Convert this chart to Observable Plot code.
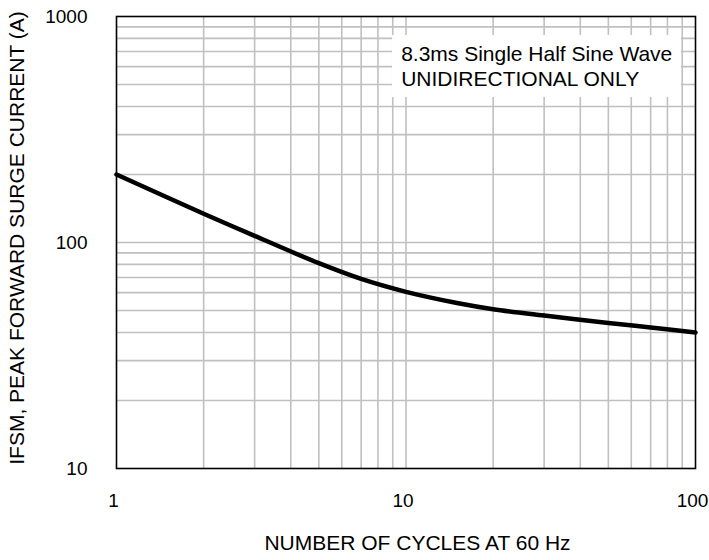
<!DOCTYPE html>
<html>
<head>
<meta charset="utf-8">
<script src="https://cdn.jsdelivr.net/npm/d3@7"></script>
<script src="https://cdn.jsdelivr.net/npm/@observablehq/plot@0.6"></script>
<style>
  html, body { margin: 0; padding: 0; background: #fff; }
  #chart { width: 709px; height: 560px; }
</style>
</head>
<body>
<div id="chart"></div>
<script>
// Surge current curve (cycles at 60 Hz vs peak forward surge current, A)
const cycles  = [1, 2, 3, 5, 7, 10, 15, 20, 30, 50, 70, 100];
const current = [200, 134, 107, 81, 69, 60.5, 54, 50.7, 47.5, 44, 42.1, 40];

// Axis ticks and grid positions
const xTickLabels = [1, 10, 100];
const yTickLabels = [10, 100, 1000];
const xGrid = [2, 3, 4, 5, 6, 7, 8, 9, 10, 20, 30, 40, 50, 60, 70, 80, 90];
const yGrid = [20, 30, 40, 50, 60, 70, 80, 90, 100, 200, 300, 400, 500, 600, 700, 800, 900];

// Texts
const xTitle = "NUMBER OF CYCLES AT 60 Hz";
const yTitle = "IFSM, PEAK FORWARD SURGE CURRENT (A)";
const noteLines = ["8.3ms Single Half Sine Wave", "UNIDIRECTIONAL ONLY"];

// Note box (data coordinates)
const noteBox = [{x1: 8.98, x2: 89.4, y1: 438, y2: 824}];
const noteAt = [{x: 9.62, y: 760}];

const data = cycles.map((c, i) => ({c, v: current[i]}));

const chart = Plot.plot({
  width: 709,
  height: 560,
  marginLeft: 116,
  marginRight: 14,
  marginTop: 16,
  marginBottom: 92,
  style: {fontFamily: "'Liberation Sans', Arial, Helvetica, sans-serif", fontSize: "19px", color: "#000", background: "#fff", overflow: "visible"},
  x: {type: "log", domain: [1, 100]},
  y: {type: "log", domain: [10, 1000]},
  marks: [
    Plot.ruleX(xGrid, {stroke: "#c0c0c0", strokeWidth: 1.6}),
    Plot.ruleY(yGrid, {stroke: "#c0c0c0", strokeWidth: 1.6}),
    Plot.rect(noteBox, {x1: "x1", x2: "x2", y1: "y1", y2: "y2", fill: "white"}),
    Plot.text(noteAt, {x: "x", y: "y", text: () => noteLines.join("\n"), textAnchor: "start", lineAnchor: "top", lineHeight: 1.19, fontSize: 21, fill: "#000"}),
    Plot.line(data, {x: "c", y: "v", stroke: "black", strokeWidth: 4.5, curve: "catmull-rom"}),
    Plot.frame({stroke: "black", strokeWidth: 1.6}),
    Plot.axisX(xTickLabels, {tickSize: 0, tickPadding: 25, dx: -3, tickFormat: d => String(d), fontSize: 19, label: null}),
    Plot.axisY(yTickLabels, {tickSize: 0, tickPadding: 29, tickFormat: d => String(d), fontSize: 19, label: null}),
    Plot.text([xTitle], {frameAnchor: "bottom", dx: 11.5, dy: 75, lineAnchor: "middle", fontSize: 21, fill: "#000"}),
    Plot.text([yTitle], {frameAnchor: "left", textAnchor: "middle", rotate: -90, dx: -99.5, dy: -4.5, lineAnchor: "middle", fontSize: 21, fill: "#000"})
  ]
});
document.getElementById("chart").appendChild(chart);
</script>
</body>
</html>
